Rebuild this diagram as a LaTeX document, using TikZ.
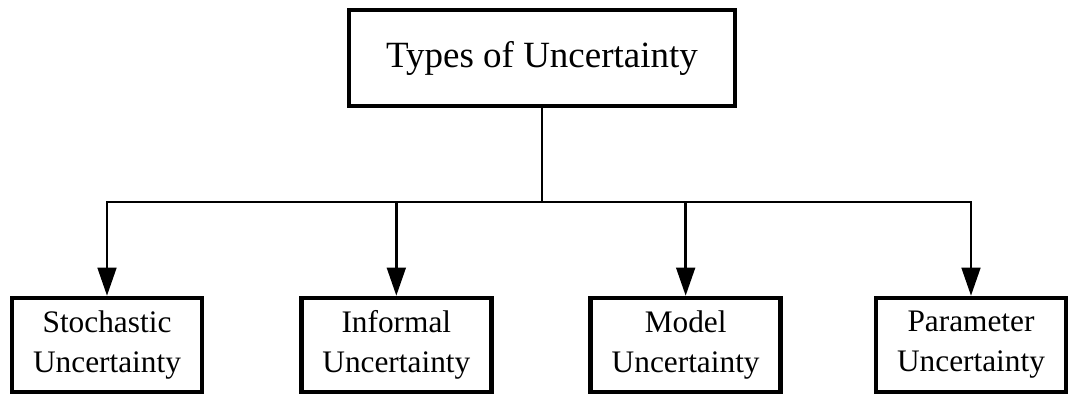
\documentclass[tikz,border=0pt]{standalone}
\usepackage{fontspec}
\setmainfont{Liberation Serif}
\usepackage{tikz}
\usetikzlibrary{arrows.meta,positioning}
\tikzstyle{typebox} = [rectangle, minimum width=289.5pt, minimum height=72pt, text centered, draw=black, line width=3.4pt, font=\fontsize{27.75}{33}\selectfont]
\tikzstyle{kindbox} = [rectangle, minimum width=142.5pt, minimum height=70.5pt, align=center, draw=black, line width=3.4pt, font=\fontsize{23.5}{30}\selectfont]
\tikzstyle{line} = [line width=1.9pt]
\tikzstyle{arrow} = [line width=1.9pt, -{Triangle[length=21pt,width=14pt]}]

\begin{document}
\begin{tikzpicture}[x=0.75pt, y=-0.75pt, node distance=217pt]
\useasboundingbox (0,0) rectangle (1068,397);
% Boxes
\node (types) [typebox] at (542,58) {Types of Uncertainty};

\node (stochastic) [kindbox] at (107,345) {Stochastic\\Uncertainty};
\node (informal) [kindbox, right of=stochastic] {Informal\\Uncertainty};
\node (model) [kindbox, right of=informal] {Model\\Uncertainty};
\node (parameter) [kindbox, right of=model, xshift=-3pt] {Parameter\\Uncertainty};

\coordinate (branch) at (542,202);

% Arrows
\draw[line] (types) -- (branch);
\draw[arrow] (branch) -| (stochastic);
\draw[arrow] (branch) -| (informal);
\draw[arrow] (branch) -| (model);
\draw[arrow] (branch) -| (parameter);
\end{tikzpicture}
\end{document}
